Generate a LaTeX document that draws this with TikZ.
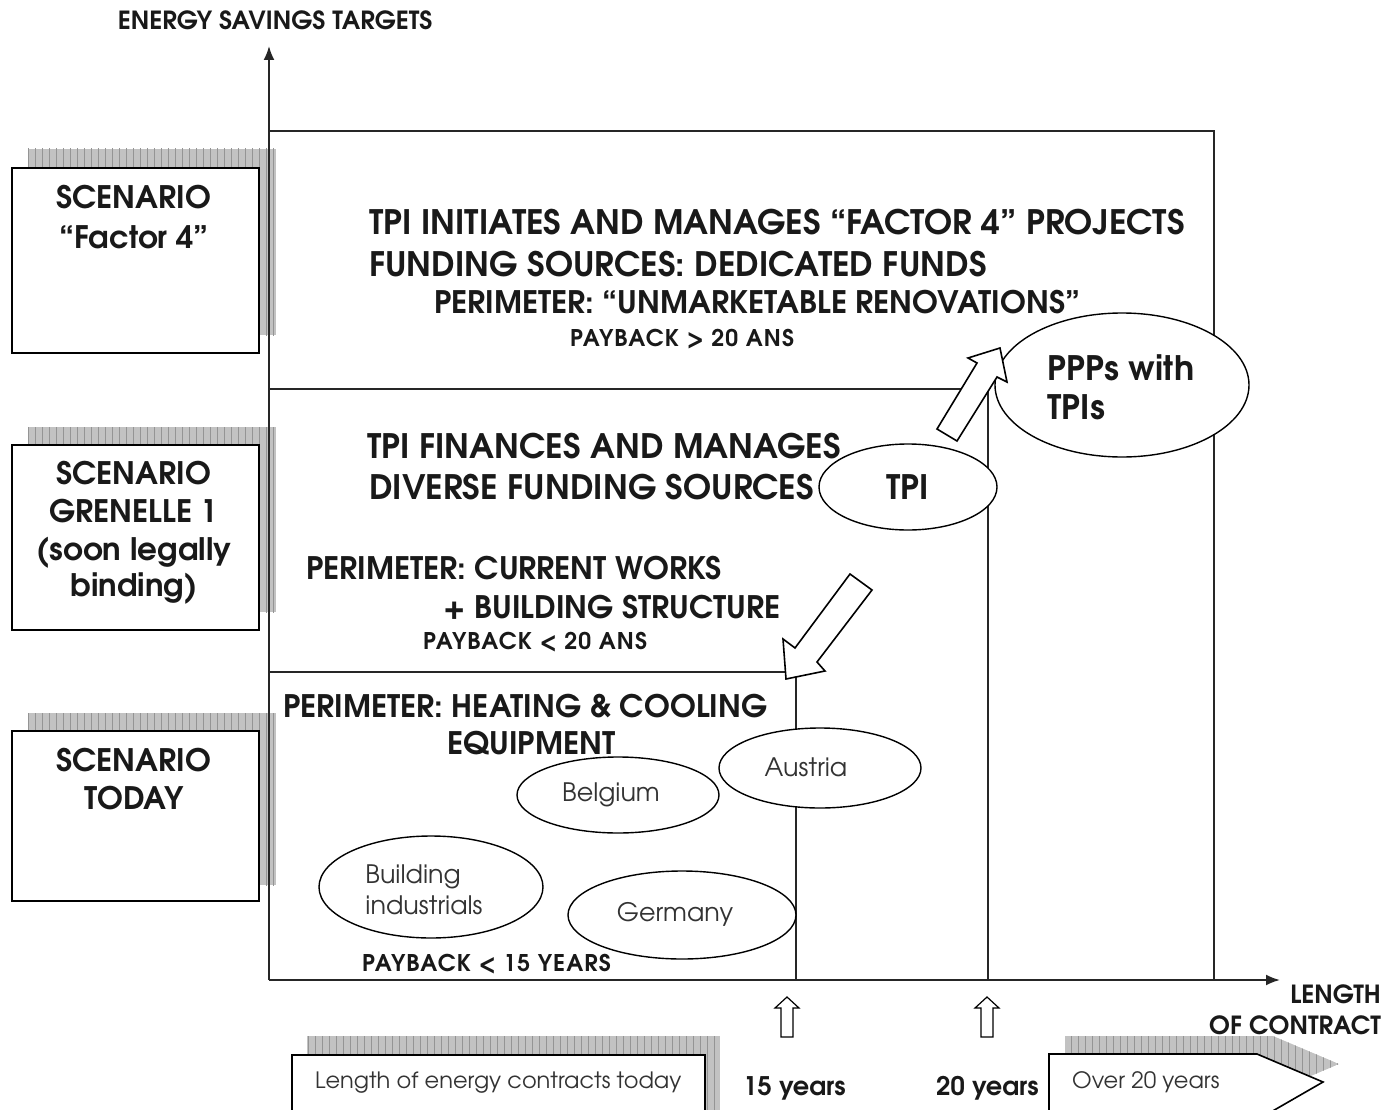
\documentclass[tikz,border=0pt]{standalone}
\usepackage{fontspec}
\setmainfont{TeX Gyre Adventor}
\usetikzlibrary{shapes.geometric,arrows.meta}
\tikzset{
  line/.style={line width=2pt, black!85},
  bigtxt/.style={font=\fontsize{33.7}{39}\selectfont\bfseries, inner sep=0, text=black!90},
  midtxt/.style={font=\fontsize{31}{36}\selectfont\bfseries, inner sep=0, text=black!90},
  paytxt/.style={font=\fontsize{23}{26}\selectfont\bfseries\addfontfeature{LetterSpace=5}, inner sep=0, text=black!90},
  axtxt/.style={font=\fontsize{25}{28}\selectfont\bfseries, inner sep=0, text=black!90},
  scentxt/.style={font=\fontsize{31}{36}\selectfont\bfseries, inner sep=0, text=black!90},
  ovaltxt/.style={font=\fontsize{25.4}{31}\selectfont, inner sep=0, text=black!80, align=left},
  boxtxt/.style={font=\fontsize{22.5}{26}\selectfont, inner sep=0, text=black!80},
  yrtxt/.style={font=\fontsize{25.6}{29}\selectfont\bfseries, inner sep=0, text=black!90},
  oval/.style={ellipse, draw, line width=1.4pt, fill=white, inner sep=0},
  scenbox/.style={draw, line width=1.6pt, fill=white},
  blockarrow/.style={draw, line width=1.6pt, fill=white, line join=miter},
  smallarrow/.style={draw, line width=1.2pt, fill=white},
}
\newcommand{\gridshadow}[1]{%
  \begin{scope}
    \clip #1;
    \fill[black!24] #1;
    \draw[black!42, line width=0.7pt, step=7] (0,0) grid (1384,1120);
  \end{scope}}
\begin{document}
\begin{tikzpicture}[x=1pt,y=-1pt]
\useasboundingbox (0,0) rectangle (1384,1110);

% shadows
\gridshadow{(28,149) rectangle (276,335)}
\gridshadow{(28,427) rectangle (276,612)}
\gridshadow{(28,713) rectangle (276,885)}
\gridshadow{(307,1036) rectangle (720,1110)}
\gridshadow{(1065,1036) -- (1273,1036) -- (1339,1064) -- (1273,1092) -- (1065,1092) -- cycle}

% scenario boxes
\node[scenbox, minimum width=247, minimum height=185, anchor=north west] (s1) at (11,167) {};
\node[scenbox, minimum width=247, minimum height=185, anchor=north west] (s2) at (11,444) {};
\node[scenbox, minimum width=247, minimum height=170, anchor=north west] (s3) at (11,730) {};

\node[scentxt, anchor=base] (s1a) at (134,209) {SCENARIO};
\node[scentxt, anchor=base] (s1b) at (134,248) {“Factor 4”};
\node[scentxt, anchor=base] (s2a) at (134,484) {SCENARIO};
\node[scentxt, anchor=base] (s2b) at (134,522) {GRENELLE 1};
\node[scentxt, anchor=base] (s2c) at (134,560) {(soon legally};
\node[scentxt, anchor=base] (s2d) at (134,596) {binding)};
\node[scentxt, anchor=base] (s3a) at (134,771) {SCENARIO};
\node[scentxt, anchor=base] (s3b) at (134,809) {TODAY};

% axes
\coordinate (O) at (269,980);
\coordinate (ytip) at (269,46);
\coordinate (xtip) at (1280,980);
\draw[line, -{Latex[length=14pt,width=11pt]}] (O) -- (ytip);
\draw[line, -{Latex[length=14pt,width=11pt]}] (O) -- (xtip);

% region lines
\coordinate (tl) at (269,131);
\coordinate (tr) at (1214,131);
\coordinate (br) at (1214,980);
\draw[line] (tl) -- (tr) -- (br);
\coordinate (m1) at (269,389);
\coordinate (m2) at (988,389);
\coordinate (m3) at (988,980);
\draw[line] (m1) -- (m2) -- (m3);
\coordinate (l1) at (269,672);
\coordinate (l2) at (796,672);
\coordinate (l3) at (796,980);
\draw[line] (l1) -- (l2) -- (l3);

% axis labels
\node[axtxt, anchor=base] (ylab) at (275,30) {ENERGY SAVINGS TARGETS};
\node[axtxt, anchor=base east] (xlab1) at (1381,1003) {LENGTH};
\node[axtxt, anchor=base east] (xlab2) at (1381,1034) {OF CONTRACT};

% top region texts
\node[bigtxt, anchor=base west] (t1) at (369,234) {TPI INITIATES AND MANAGES “FACTOR 4” PROJECTS};
\node[bigtxt, anchor=base west] (t2) at (369,276) {FUNDING SOURCES: DEDICATED FUNDS};
\node[midtxt, anchor=base west] (t3) at (434,313) {PERIMETER: “UNMARKETABLE RENOVATIONS”};
\node[paytxt, anchor=base west] (t4) at (570,346) {PAYBACK > 20 ANS};

% middle region texts
\node[bigtxt, anchor=base west] (g1) at (367,458) {TPI FINANCES AND MANAGES};
\node[bigtxt, anchor=base west] (g2) at (369,499) {DIVERSE FUNDING SOURCES};
\node[midtxt, anchor=base west] (g3) at (306,579) {PERIMETER: CURRENT WORKS};
\node[midtxt, anchor=base west] (g4) at (443,618) {+ BUILDING STRUCTURE};
\node[paytxt, anchor=base west] (g5) at (423,649) {PAYBACK < 20 ANS};

% lower region texts
\node[midtxt, anchor=base west] (h1) at (283,717) {PERIMETER: HEATING \& COOLING};
\node[midtxt, anchor=base west] (h2) at (447,754) {EQUIPMENT};
\node[paytxt, anchor=base west] (h3) at (362,971) {PAYBACK < 15 YEARS};

% ellipses
\node[oval, minimum width=202, minimum height=80] (aus) at (820,768) {};
\node[oval, minimum width=202, minimum height=76] (bel) at (618,795) {};
\node[oval, minimum width=224, minimum height=102] (bui) at (431,887) {};
\node[oval, minimum width=228, minimum height=88] (ger) at (682,915) {};
\node[oval, minimum width=178, minimum height=86] (tpi) at (908,487) {};
\node[oval, minimum width=254, minimum height=144] (ppp) at (1122,385) {};

\node[ovaltxt] (austxt) at (806,767) {Austria};
\node[ovaltxt] (beltxt) at (611,795) {Belgium};
\node[ovaltxt] (buitxt) at (424,890) {Building\\industrials};
\node[ovaltxt] (gertxt) at (675,914) {Germany};
\node[bigtxt] (tpitxt) at (908,487) {TPI};
\node[bigtxt, align=left] (ppptxt) at (1121,387) {PPPs with\\TPIs};

% block arrows
\draw[blockarrow] (937,429) -- (977,363) -- (968,358) -- (1000,348) -- (1007,382) -- (997,377) -- (957,441) -- cycle;
\draw[blockarrow] (850,574) -- (872,590) -- (817,662) -- (825,671) -- (786,679) -- (783,639) -- (795,648) -- cycle;

% small up arrows
\draw[smallarrow] (781,1037) -- (781,1008) -- (775,1008) -- (787,997) -- (799,1008) -- (793,1008) -- (793,1037) -- cycle;
\draw[smallarrow] (981,1037) -- (981,1008) -- (975,1008) -- (987,997) -- (999,1008) -- (993,1008) -- (993,1037) -- cycle;

% bottom boxes
\node[scenbox, minimum width=413, minimum height=70, anchor=north west] (lenbox) at (291,1054) {};
\node[boxtxt, anchor=base west] (lentxt) at (315,1088) {Length of energy contracts today};
\draw[scenbox] (1049,1120) -- (1049,1054) -- (1257,1054) -- (1323,1082) -- (1257,1120);
\node[boxtxt, anchor=base west] (overtxt) at (1072,1088) {Over 20 years};
\node[yrtxt, anchor=base west] (y15) at (743,1095) {15 years};
\node[yrtxt, anchor=base west] (y20) at (936,1095) {20 years};
\end{tikzpicture}
\end{document}
